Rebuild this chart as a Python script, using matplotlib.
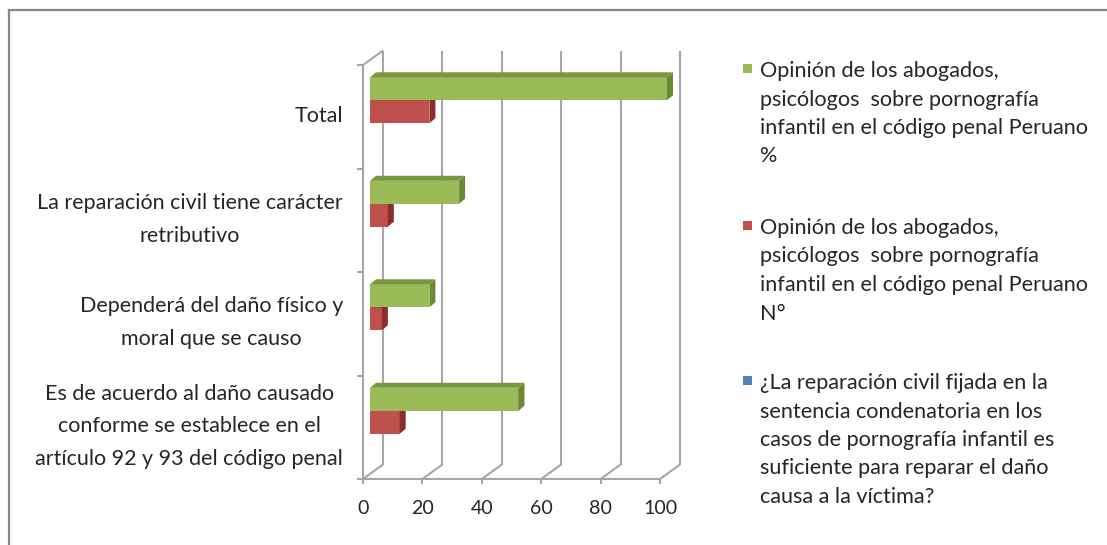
import matplotlib
matplotlib.use("Agg")
import numpy as np
import matplotlib.pyplot as plt
from matplotlib.patches import Polygon, Rectangle
from matplotlib.lines import Line2D
from matplotlib.font_manager import FontProperties

# ---------------- data ----------------
categories = [
    "Es de acuerdo al daño causado\nconforme se establece en el\nartículo 92 y 93 del código penal",
    "Dependerá del daño físico y\nmoral que se causo",
    "La reparación civil tiene carácter\nretributivo",
    "Total",
]
pct_values = [50, 20, 30, 100]
num_values = [10, 4, 6, 20]
question_values = [0, 0, 0, 0]
series_labels = [
    "Opinión de los abogados,\npsicólogos  sobre pornografía\ninfantil en el código penal Peruano\n%",
    "Opinión de los abogados,\npsicólogos  sobre pornografía\ninfantil en el código penal Peruano\nN°",
    "¿La reparación civil fijada en la\nsentencia condenatoria en los\ncasos de pornografía infantil es\nsuficiente para reparar el daño\ncausa a la víctima?",
]
x_ticks = [0, 20, 40, 60, 80, 100]

# ---------------- style ----------------
W, H = 1107, 545
FONT = "Lato"
TXT = "#262626"
GRID = "#A6A6A6"
GREEN = ("#9BBB59", "#7A9840", "#6B8834")
RED = ("#C0504D", "#A33F3C", "#8A2E2C")
BLUE = ("#4F81BD", "#3F6A9E", "#355C8A")

fig = plt.figure(figsize=(W / 100, H / 100), dpi=100)
renderer = fig.canvas.get_renderer()


def fx(px):
    return px / W


def fy(py):
    return 1 - py / H


def fit_size(text, target_px, base=12):
    t = fig.text(0, 0, text, fontsize=base, family=FONT)
    w = t.get_window_extent(renderer).width
    t.remove()
    return base * target_px / w


def spacing_for(size, pitch_px):
    prop = FontProperties(family=FONT, size=size)
    _, h, d = renderer.get_text_width_height_descent("lp", prop, ismath=False)
    return pitch_px / (h - d)


leg_size = fit_size("infantil en el código penal Peruano", 327)
cat_size = fit_size("artículo 92 y 93 del código penal", 307)
tick_size = fit_size("100", 34)
cat_ls = spacing_for(cat_size, 28.7)

# border (top and left only, chart is cropped)
fig.add_artist(Line2D([fx(9), fx(9)], [fy(10), 0], color="#878787", lw=1.6, transform=fig.transFigure))
fig.add_artist(Line2D([fx(9), 1], [fy(10), fy(10)], color="#878787", lw=1.6, transform=fig.transFigure))

# axes on the front plane
ax = fig.add_axes([fx(363), fy(479), fx(660) - fx(363), fy(65) - fy(479)])
ax.set_xlim(0, 100)
ax.set_ylim(-0.5, 3.5)
ax.axis("off")

sx = 100 / 297.0   # data units per px (x)
sy = 4 / 414.0     # data units per px (y)
gdx, gdy = 20 * sx, 14.5 * sy

kw = dict(color=GRID, lw=1.5, clip_on=False, solid_capstyle="butt", zorder=1)
for v in x_ticks:
    ax.plot([v + gdx, v + gdx], [-0.5 + gdy, 3.5 + gdy], **kw)
    ax.plot([v, v + gdx], [-0.5, -0.5 + gdy], **kw)
    ax.plot([v, v], [-0.5, -0.5 - 5 * sy], **kw)
ax.plot([0, 100], [-0.5, -0.5], **kw)
ax.plot([0, 0], [-0.5, 3.5], **kw)
ax.plot([0, gdx], [3.5, 3.5 + gdy], **kw)
for b in np.arange(-0.5, 3.6, 1.0):
    ax.plot([0, -6 * sx], [b, b], **kw)

# 3D-like bars
y = np.arange(len(categories))
h = 0.222
bx, by = 7 * sx, 5 * sy
ddx, ddy = 6 * sx, 5 * sy


def bars3d(vals, off, cols, z):
    face, top, side = cols
    ax.barh(y + off + by, vals, left=bx, height=h, color=face, lw=0, zorder=z, clip_on=False)
    for yi, v in zip(y, vals):
        if v <= 0:
            continue
        yt = yi + off + by + h / 2
        yb = yi + off + by - h / 2
        ax.add_patch(Polygon([(bx, yt), (bx + v, yt), (bx + v + ddx, yt + ddy), (bx + ddx, yt + ddy)],
                             closed=True, color=top, lw=0, zorder=z, clip_on=False))
        ax.add_patch(Polygon([(bx + v, yb), (bx + v + ddx, yb + ddy), (bx + v + ddx, yt + ddy), (bx + v, yt)],
                             closed=True, color=side, lw=0, zorder=z, clip_on=False))


bars3d(question_values, -h, BLUE, 3)
bars3d(num_values, 0, RED, 4)
bars3d(pct_values, h, GREEN, 5)

# tick labels
for v in x_ticks:
    ax.text(v, -0.5 - 29 * sy, str(v), ha="center", va="center", fontsize=tick_size,
            family=FONT, color=TXT, clip_on=False)

# category labels
for yi, lab in zip(y, categories):
    ax.text(-20 * sx, yi + 1 * sy, lab, ha="right", va="center", multialignment="center",
            fontsize=cat_size, family=FONT, color=TXT, linespacing=cat_ls, clip_on=False)

# legend (one line of text per row, marker next to the first row)
leg_base = [77, 234, 389]
pitch = 28.5
for lab, cols, yb in zip(series_labels, [GREEN, RED, BLUE], leg_base):
    fig.add_artist(Rectangle((fx(743), fy(yb - 4)), fx(9), fy(yb - 13) - fy(yb - 4),
                             transform=fig.transFigure, color=cols[0], lw=0))
    for k, line in enumerate(lab.split("\n")):
        fig.text(fx(760), fy(yb + k * pitch), line, ha="left", va="baseline",
                 fontsize=leg_size, family=FONT, color=TXT)

fig.savefig("out.png", dpi=100)
